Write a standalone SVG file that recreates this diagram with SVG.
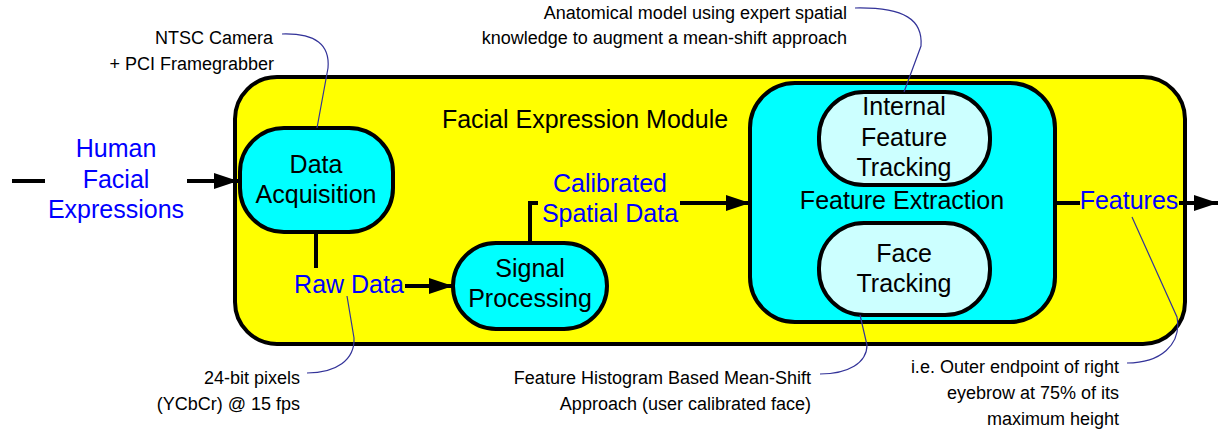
<svg xmlns="http://www.w3.org/2000/svg" width="1219" height="431" viewBox="0 0 1219 431">
  <defs>
    <marker id="arrow" markerUnits="userSpaceOnUse" markerWidth="24" markerHeight="18" refX="24" refY="8" orient="auto">
      <path d="M0,0 L24,8 L0,16 z" fill="#000"/>
    </marker>
    <style>
      .box { stroke: #000; stroke-width: 4; }
      .lbl { font-family: "Liberation Sans", Arial, sans-serif; font-size: 25px; fill: #000; text-anchor: middle; }
      .flow { font-family: "Liberation Sans", Arial, sans-serif; font-size: 25px; fill: #0000ff; text-anchor: middle; }
      .note { font-family: "Liberation Sans", Arial, sans-serif; font-size: 18px; fill: #000; text-anchor: end; }
      .wire { fill: none; stroke: #000; stroke-width: 4; }
      .call { fill: none; stroke: #333399; stroke-width: 1.2; }
    </style>
  </defs>
  <rect width="1219" height="431" fill="#fff"/>

  <!-- container module -->
  <g id="module">
    <rect class="box" x="235" y="77" width="950" height="267" rx="42" fill="#ffff00"/>
    <text class="lbl" x="585" y="128">Facial Expression Module</text>
  </g>

  <g id="data-acquisition">
    <rect class="box" x="240" y="128" width="153" height="104" rx="44" fill="#00ffff"/>
    <text class="lbl" x="316" y="173">Data</text>
    <text class="lbl" x="316" y="203">Acquisition</text>
  </g>

  <g id="signal-processing">
    <rect class="box" x="453" y="243" width="154" height="86" rx="43" fill="#00ffff"/>
    <text class="lbl" x="530" y="277">Signal</text>
    <text class="lbl" x="530" y="307">Processing</text>
  </g>

  <g id="feature-extraction">
    <rect class="box" x="750" y="83" width="305" height="239" rx="45" fill="#00ffff"/>
    <text class="lbl" x="902" y="209">Feature Extraction</text>
  </g>

  <g id="internal-feature-tracking">
    <rect class="box" x="819" y="92" width="171" height="93" rx="45" fill="#ccffff"/>
    <text class="lbl" x="904" y="115">Internal</text>
    <text class="lbl" x="904" y="146">Feature</text>
    <text class="lbl" x="904" y="176">Tracking</text>
  </g>

  <g id="face-tracking">
    <rect class="box" x="819" y="223" width="171" height="92" rx="45" fill="#ccffff"/>
    <text class="lbl" x="904" y="262">Face</text>
    <text class="lbl" x="904" y="292">Tracking</text>
  </g>

  <!-- data flow connectors -->
  <g id="connectors">
    <line class="wire" x1="12" y1="181" x2="45" y2="181"/>
    <line class="wire" x1="187" y1="181" x2="238" y2="181" marker-end="url(#arrow)"/>
    <line class="wire" x1="316" y1="232" x2="316" y2="268"/>
    <line class="wire" x1="405" y1="286" x2="453" y2="286" marker-end="url(#arrow)"/>
    <polyline class="wire" points="530,243 530,203 538,203"/>
    <line class="wire" x1="680" y1="203" x2="750" y2="203" marker-end="url(#arrow)"/>
    <line class="wire" x1="1055" y1="203" x2="1080" y2="203"/>
    <line class="wire" x1="1179" y1="203" x2="1218" y2="203" marker-end="url(#arrow)"/>
  </g>

  <!-- flow labels -->
  <g id="flow-labels">
    <text class="flow" x="116" y="157">Human</text>
    <text class="flow" x="116" y="188">Facial</text>
    <text class="flow" x="116" y="218">Expressions</text>
    <text class="flow" x="349" y="293">Raw Data</text>
    <text class="flow" x="610" y="192">Calibrated</text>
    <text class="flow" x="610" y="222">Spatial Data</text>
    <text class="flow" x="1129" y="209">Features</text>
  </g>

  <!-- annotation callouts -->
  <g id="callouts">
    <path class="call" d="M282,34 C316,33 330,45 328,68 L317,128"/>
    <path class="call" d="M855,8 C905,7 923,20 921,46 L904,92"/>
    <path class="call" d="M347,296 L354,338 C355,360 336,373 307,373"/>
    <path class="call" d="M860,315 L867,345 C867,363 848,374 820,374"/>
    <path class="call" d="M1132,217 L1177,317 C1182,345 1160,363 1127,363"/>
  </g>

  <g id="notes">
    <text class="note" x="273" y="44">NTSC Camera</text>
    <text class="note" x="274" y="70">+ PCI Framegrabber</text>
    <text class="note" x="847" y="19">Anatomical model using expert spatial</text>
    <text class="note" x="847" y="44">knowledge to augment a mean-shift approach</text>
    <text class="note" x="300" y="384">24-bit pixels</text>
    <text class="note" x="300" y="410">(YCbCr) @ 15 fps</text>
    <text class="note" x="811" y="384">Feature Histogram Based Mean-Shift</text>
    <text class="note" x="811" y="410">Approach (user calibrated face)</text>
    <text class="note" x="1119" y="373">i.e. Outer endpoint of right</text>
    <text class="note" x="1119" y="399">eyebrow at 75% of its</text>
    <text class="note" x="1119" y="425">maximum height</text>
  </g>
</svg>
